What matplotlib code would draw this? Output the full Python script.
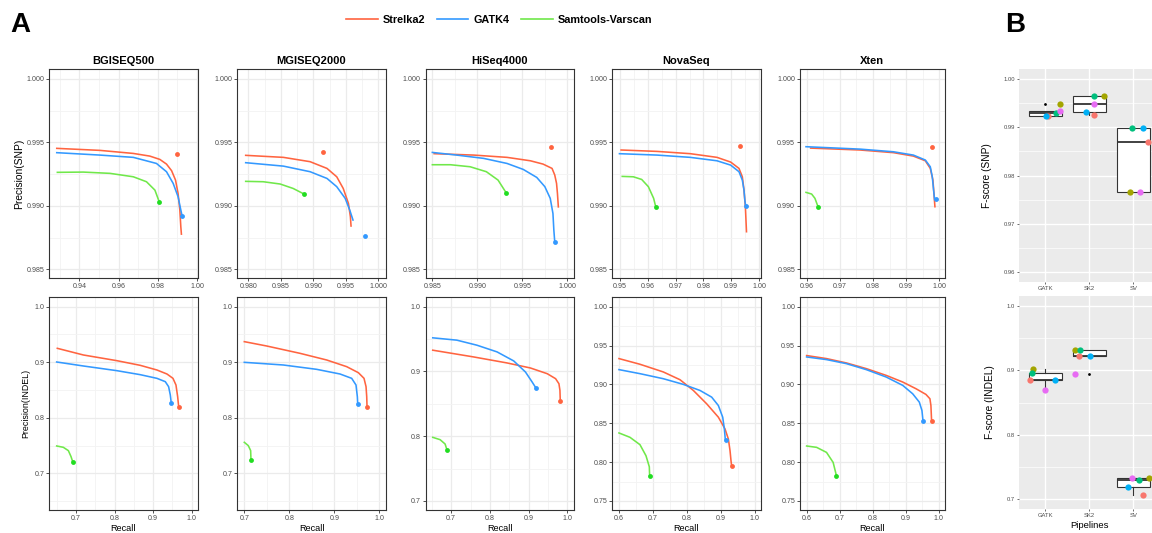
import matplotlib
matplotlib.use("Agg")
import matplotlib.pyplot as plt
from matplotlib.lines import Line2D
from matplotlib.ticker import FormatStrFormatter

plt.rcParams['font.family'] = ['Liberation Sans', 'DejaVu Sans']

# ------------------------------------------------------------------ data
platforms = ['BGISEQ500', 'MGISEQ2000', 'HiSeq4000', 'NovaSeq', 'Xten']
callers = ['Strelka2', 'GATK4', 'Samtools-Varscan']

# ---- SNP precision/recall curves ----
snp_bgiseq500_strelka2_recall = [0.9285, 0.9505, 0.9675, 0.9759, 0.9810, 0.9844, 0.9870, 0.9890, 0.9903, 0.9912, 0.9917, 0.9920]
snp_bgiseq500_strelka2_precision = [0.99453, 0.99437, 0.99413, 0.99392, 0.99366, 0.99329, 0.99277, 0.99203, 0.99098, 0.98967, 0.98835, 0.98777]
snp_bgiseq500_gatk4_recall = [0.9285, 0.9505, 0.9675, 0.9793, 0.9844, 0.9878, 0.9903, 0.9917, 0.9924]
snp_bgiseq500_gatk4_precision = [0.99419, 0.99400, 0.99382, 0.99334, 0.99269, 0.99177, 0.99072, 0.98967, 0.98917]
snp_bgiseq500_varscan_recall = [0.9288, 0.9420, 0.9556, 0.9675, 0.9742, 0.9785, 0.9807]
snp_bgiseq500_varscan_precision = [0.99264, 0.99266, 0.99256, 0.99229, 0.99190, 0.99124, 0.99032]
snp_bgiseq500_end_recall = [0.9897, 0.9924, 0.9807]
snp_bgiseq500_end_precision = [0.99408, 0.98917, 0.99032]

snp_mgiseq2000_strelka2_recall = [0.9796, 0.9854, 0.9895, 0.9921, 0.9936, 0.9946, 0.9954, 0.9957, 0.9958]
snp_mgiseq2000_strelka2_precision = [0.99398, 0.99382, 0.99348, 0.99295, 0.99229, 0.99137, 0.99019, 0.98914, 0.98841]
snp_mgiseq2000_gatk4_recall = [0.9796, 0.9854, 0.9895, 0.9921, 0.9936, 0.9949, 0.9956, 0.9961]
snp_mgiseq2000_gatk4_precision = [0.99340, 0.99313, 0.99269, 0.99216, 0.99151, 0.99059, 0.98967, 0.98888]
snp_mgiseq2000_varscan_recall = [0.9796, 0.9823, 0.9849, 0.9869, 0.9885]
snp_mgiseq2000_varscan_precision = [0.99193, 0.99190, 0.99172, 0.99137, 0.99095]
snp_mgiseq2000_end_recall = [0.9915, 0.9980, 0.9885]
snp_mgiseq2000_end_precision = [0.99421, 0.98759, 0.99095]

snp_hiseq4000_strelka2_recall = [0.9852, 0.9896, 0.9933, 0.9959, 0.9973, 0.9983, 0.9986, 0.9988, 0.9989, 0.9990]
snp_hiseq4000_strelka2_precision = [0.99411, 0.99400, 0.99382, 0.99355, 0.99329, 0.99295, 0.99243, 0.99177, 0.99098, 0.98992]
snp_hiseq4000_gatk4_recall = [0.9850, 0.9877, 0.9907, 0.9933, 0.9951, 0.9966, 0.9975, 0.9981, 0.9984, 0.9985, 0.9986]
snp_hiseq4000_gatk4_precision = [0.99421, 0.99400, 0.99374, 0.99334, 0.99287, 0.99224, 0.99151, 0.99059, 0.98940, 0.98809, 0.98717]
snp_hiseq4000_varscan_recall = [0.9850, 0.9870, 0.9892, 0.9910, 0.9923, 0.9932]
snp_hiseq4000_varscan_precision = [0.99324, 0.99324, 0.99308, 0.99269, 0.99203, 0.99103]
snp_hiseq4000_end_recall = [0.9982, 0.9986, 0.9932]
snp_hiseq4000_end_precision = [0.99466, 0.98717, 0.99103]

snp_novaseq_strelka2_recall = [0.9504, 0.9633, 0.9753, 0.9849, 0.9898, 0.9928, 0.9940, 0.9946, 0.9951, 0.9955]
snp_novaseq_strelka2_precision = [0.99440, 0.99429, 0.99411, 0.99382, 0.99345, 0.99295, 0.99229, 0.99124, 0.98992, 0.98796]
snp_novaseq_gatk4_recall = [0.9498, 0.9633, 0.9753, 0.9849, 0.9898, 0.9928, 0.9940, 0.9946, 0.9949, 0.9952]
snp_novaseq_gatk4_precision = [0.99411, 0.99400, 0.99382, 0.99355, 0.99321, 0.99269, 0.99203, 0.99124, 0.99045, 0.99001]
snp_novaseq_varscan_recall = [0.9508, 0.9548, 0.9578, 0.9602, 0.9621, 0.9629]
snp_novaseq_varscan_precision = [0.99232, 0.99229, 0.99208, 0.99151, 0.99059, 0.98988]
snp_novaseq_end_recall = [0.9931, 0.9952, 0.9629]
snp_novaseq_end_precision = [0.99474, 0.99001, 0.98988]

snp_xten_strelka2_recall = [0.9612, 0.9761, 0.9862, 0.9922, 0.9958, 0.9973, 0.9981, 0.9984, 0.9987]
snp_xten_strelka2_precision = [0.99455, 0.99440, 0.99419, 0.99392, 0.99355, 0.99295, 0.99203, 0.99098, 0.98993]
snp_xten_gatk4_recall = [0.9598, 0.9761, 0.9862, 0.9922, 0.9958, 0.9973, 0.9979, 0.9983, 0.9986]
snp_xten_gatk4_precision = [0.99466, 0.99447, 0.99426, 0.99400, 0.99361, 0.99308, 0.99229, 0.99124, 0.99051]
snp_xten_varscan_recall = [0.9598, 0.9615, 0.9625, 0.9635]
snp_xten_varscan_precision = [0.99106, 0.99093, 0.99059, 0.98988]
snp_xten_end_recall = [0.9979, 0.9989, 0.9635]
snp_xten_end_precision = [0.99466, 0.99051, 0.98988]

# ---- INDEL precision/recall curves ----
indel_bgiseq500_strelka2_recall = [0.6514, 0.7191, 0.8058, 0.8665, 0.9099, 0.9359, 0.9515, 0.9593, 0.9637, 0.9663]
indel_bgiseq500_strelka2_precision = [0.9250, 0.9130, 0.9028, 0.8944, 0.8860, 0.8788, 0.8710, 0.8590, 0.8380, 0.8200]
indel_bgiseq500_gatk4_recall = [0.6497, 0.7191, 0.8058, 0.8665, 0.9099, 0.9316, 0.9402, 0.9446, 0.9472]
indel_bgiseq500_gatk4_precision = [0.9004, 0.8932, 0.8848, 0.8776, 0.8710, 0.8650, 0.8560, 0.8410, 0.8260]
indel_bgiseq500_varscan_recall = [0.6497, 0.6670, 0.6801, 0.6870, 0.6913]
indel_bgiseq500_varscan_precision = [0.7493, 0.7469, 0.7409, 0.7301, 0.7211]
indel_bgiseq500_end_recall = [0.9680, 0.9472, 0.6913]
indel_bgiseq500_end_precision = [0.8194, 0.8260, 0.7211]

indel_mgiseq2000_strelka2_recall = [0.7000, 0.7496, 0.8237, 0.8830, 0.9274, 0.9533, 0.9659, 0.9704, 0.9719, 0.9726]
indel_mgiseq2000_strelka2_precision = [0.9370, 0.9292, 0.9160, 0.9040, 0.8920, 0.8812, 0.8710, 0.8560, 0.8380, 0.8200]
indel_mgiseq2000_gatk4_recall = [0.7000, 0.7867, 0.8607, 0.9126, 0.9385, 0.9481, 0.9511, 0.9519]
indel_mgiseq2000_gatk4_precision = [0.8998, 0.8950, 0.8872, 0.8788, 0.8710, 0.8590, 0.8380, 0.8248]
indel_mgiseq2000_varscan_recall = [0.7000, 0.7089, 0.7141, 0.7148]
indel_mgiseq2000_varscan_precision = [0.7559, 0.7499, 0.7409, 0.7247]
indel_mgiseq2000_end_recall = [0.9726, 0.9526, 0.7148]
indel_mgiseq2000_end_precision = [0.8188, 0.8248, 0.7247]

indel_hiseq4000_strelka2_recall = [0.6525, 0.7579, 0.8443, 0.9048, 0.9481, 0.9697, 0.9783, 0.9809, 0.9818]
indel_hiseq4000_strelka2_precision = [0.9328, 0.9224, 0.9131, 0.9053, 0.8965, 0.8888, 0.8810, 0.8707, 0.8541]
indel_hiseq4000_gatk4_recall = [0.6525, 0.7147, 0.7666, 0.8184, 0.8616, 0.8919, 0.9092, 0.9195]
indel_hiseq4000_gatk4_precision = [0.9519, 0.9483, 0.9405, 0.9302, 0.9162, 0.8991, 0.8836, 0.8738]
indel_hiseq4000_varscan_recall = [0.6525, 0.6715, 0.6844, 0.6896]
indel_hiseq4000_varscan_precision = [0.7982, 0.7946, 0.7879, 0.7781]
indel_hiseq4000_end_recall = [0.9818, 0.9195, 0.6896]
indel_hiseq4000_end_precision = [0.8536, 0.8738, 0.7781]

indel_novaseq_strelka2_recall = [0.6000, 0.6619, 0.7307, 0.7799, 0.8192, 0.8585, 0.8929, 0.9125, 0.9224, 0.9273, 0.9302, 0.9322]
indel_novaseq_strelka2_precision = [0.9332, 0.9259, 0.9160, 0.9060, 0.8922, 0.8750, 0.8578, 0.8427, 0.8297, 0.8147, 0.8017, 0.7944]
indel_novaseq_gatk4_recall = [0.6000, 0.6619, 0.7307, 0.7897, 0.8388, 0.8732, 0.8929, 0.9057, 0.9106, 0.9135]
indel_novaseq_gatk4_precision = [0.9190, 0.9138, 0.9073, 0.9000, 0.8922, 0.8836, 0.8728, 0.8578, 0.8427, 0.8285]
indel_novaseq_varscan_recall = [0.6000, 0.6324, 0.6619, 0.6796, 0.6894, 0.6904]
indel_novaseq_varscan_precision = [0.8375, 0.8319, 0.8224, 0.8082, 0.7940, 0.7823]
indel_novaseq_end_recall = [0.9322, 0.9145, 0.6904]
indel_novaseq_end_precision = [0.7944, 0.8285, 0.7823]

indel_xten_strelka2_recall = [0.6000, 0.6603, 0.7206, 0.7809, 0.8412, 0.8915, 0.9317, 0.9618, 0.9739, 0.9769, 0.9789]
indel_xten_strelka2_precision = [0.9371, 0.9332, 0.9276, 0.9203, 0.9116, 0.9030, 0.8944, 0.8871, 0.8815, 0.8728, 0.8534]
indel_xten_gatk4_recall = [0.6000, 0.6603, 0.7206, 0.7809, 0.8412, 0.8915, 0.9216, 0.9417, 0.9497, 0.9528]
indel_xten_gatk4_precision = [0.9353, 0.9319, 0.9267, 0.9190, 0.9095, 0.8987, 0.8879, 0.8772, 0.8664, 0.8534]
indel_xten_varscan_recall = [0.6000, 0.6302, 0.6603, 0.6804, 0.6905]
indel_xten_varscan_precision = [0.8207, 0.8190, 0.8125, 0.7996, 0.7823]
indel_xten_end_recall = [0.9799, 0.9538, 0.6905]
indel_xten_end_precision = [0.8534, 0.8534, 0.7823]

# ---- Panel B: F-scores per pipeline (one value per sequencing platform, colour order) ----
pipelines = ['GATK', 'SK2', 'SV']
fscore_snp_gatk = [0.99233, 0.99489, 0.99288, 0.99226, 0.99330]
fscore_snp_sk2 = [0.99254, 0.99648, 0.99648, 0.99309, 0.99475]
fscore_snp_sv = [0.98701, 0.97651, 0.98984, 0.98984, 0.97651]
fscore_indel_gatk = [0.88436, 0.90139, 0.89520, 0.88487, 0.86939]
fscore_indel_sk2 = [0.92153, 0.93185, 0.93134, 0.92256, 0.89468]
fscore_indel_sv = [0.70676, 0.73361, 0.73051, 0.71967, 0.73361]

# horizontal jitter of the points (style)
jitter_snp = [[0.06, 0.33, 0.24, 0.02, 0.33], [0.11, 0.34, 0.11, -0.08, 0.11], [0.34, -0.07, -0.02, 0.23, 0.15]]
jitter_indel = [[-0.36, -0.29, -0.30, 0.21, 0.0], [-0.24, -0.33, -0.21, 0.02, -0.33], [0.22, 0.37, 0.14, -0.13, -0.02]]

# ------------------------------------------------------------------ styles
W, H = 1152, 533
caller_line_colors = ['#FF6440', '#3399FF', '#70E84A']
caller_point_colors = ['#FF6440', '#3399FF', '#22DD22']
platform_colors = ['#F8766D', '#A3A500', '#00BF7D', '#00B0F6', '#E76BF3']

fig = plt.figure(figsize=(W / 100, H / 100), dpi=100)


def rect(l, t, r, b):
    return [l / W, 1 - b / H, (r - l) / W, (b - t) / H]


g = globals()
keys = ['bgiseq500', 'mgiseq2000', 'hiseq4000', 'novaseq', 'xten']
ckeys = ['strelka2', 'gatk4', 'varscan']

cols = [(49.3, 197.7), (237.3, 385.7), (425.7, 574.0), (612.3, 760.7), (800.0, 944.5)]
rows = {'snp': (69.3, 278.3), 'indel': (297.3, 510.0)}


def mids(t):
    return [(a + b) / 2 for a, b in zip(t[:-1], t[1:])]


cfg = {
    'snp': [
        ((0.9247, 1.0003), [0.94, 0.96, 0.98, 1.00], [0.93, 0.95, 0.97, 0.99], 2),
        ((0.97831, 1.00113), [0.980, 0.985, 0.990, 0.995, 1.000], None, 3),
        ((0.98426, 1.00074), [0.985, 0.990, 0.995, 1.000], None, 3),
        ((0.94723, 1.00061), [0.95, 0.96, 0.97, 0.98, 0.99, 1.00], None, 2),
        ((0.95799, 1.00159), [0.96, 0.97, 0.98, 0.99, 1.00], None, 2),
    ],
    'indel': [
        ((0.6306, 1.0157), [0.7, 0.8, 0.9, 1.0], [0.65, 0.75, 0.85, 0.95], 1),
        ((0.68444, 1.01407), [0.7, 0.8, 0.9, 1.0], None, 1),
        ((0.63431, 1.01720), [0.7, 0.8, 0.9, 1.0], [0.65, 0.75, 0.85, 0.95], 1),
        ((0.58034, 1.01769), [0.6, 0.7, 0.8, 0.9, 1.0], [0.65, 0.75, 0.85, 0.95], 1),
        ((0.57990, 1.01809), [0.6, 0.7, 0.8, 0.9, 1.0], [0.65, 0.75, 0.85, 0.95], 1),
    ],
}
ycfg = {
    'snp': [((0.98429, 1.00076), [0.985, 0.990, 0.995, 1.000], 3)] * 5,
    'indel': [
        ((0.6341, 1.0168), [0.7, 0.8, 0.9, 1.0], 1),
        ((0.6341, 1.0168), [0.7, 0.8, 0.9, 1.0], 1),
        ((0.68598, 1.01449), [0.7, 0.8, 0.9, 1.0], 1),
        ((0.73836, 1.01207), [0.75, 0.80, 0.85, 0.90, 0.95, 1.00], 2),
        ((0.73836, 1.01207), [0.75, 0.80, 0.85, 0.90, 0.95, 1.00], 2),
    ],
}
yminor_extra = {('indel', 0): [0.65], ('indel', 1): [0.65]}

for vt in ['snp', 'indel']:
    top, bot = rows[vt]
    for i, pk in enumerate(keys):
        l, r = cols[i]
        ax = fig.add_axes(rect(l, top, r, bot))
        xlim, xt, xmn, xdec = cfg[vt][i]
        ylim, yt, ydec = ycfg[vt][i]
        for j, ck in enumerate(ckeys):
            rec = g[f'{vt}_{pk}_{ck}_recall']
            pre = g[f'{vt}_{pk}_{ck}_precision']
            ax.plot(rec, pre, color=caller_line_colors[j], lw=1.15, zorder=3,
                    solid_joinstyle='round')
        er = g[f'{vt}_{pk}_end_recall']
        ep = g[f'{vt}_{pk}_end_precision']
        for j in range(3):
            ax.plot([er[j]], [ep[j]], 'o', ms=3.5, color=caller_point_colors[j],
                    mec='none', zorder=4)
        ax.set_xlim(xlim)
        ax.set_ylim(ylim)
        ax.set_xticks(xt)
        ax.set_xticks(xmn if xmn is not None else mids(xt), minor=True)
        ax.set_yticks(yt)
        ax.set_yticks(mids(yt) + yminor_extra.get((vt, i), []), minor=True)
        ax.xaxis.set_major_formatter(FormatStrFormatter(f'%.{xdec}f'))
        ax.yaxis.set_major_formatter(FormatStrFormatter(f'%.{ydec}f'))
        ax.grid(which='major', color='#EBEBEB', lw=0.9)
        ax.grid(which='minor', color='#F3F3F3', lw=0.6)
        ax.set_axisbelow(True)
        for s in ax.spines.values():
            s.set_color('#333333')
            s.set_linewidth(0.8)
        ax.tick_params(which='major', length=2, width=0.6, color='#333333',
                       labelsize=5.1, labelcolor='#4D4D4D', pad=1.5)
        ax.tick_params(which='minor', length=0)
        if vt == 'snp':
            ax.set_title(platforms[i], fontsize=8, fontweight='bold', pad=4)
        else:
            ax.set_xlabel('Recall', fontsize=6.6, labelpad=1.5)
        if i == 0:
            if vt == 'snp':
                ax.set_ylabel('Precision(SNP)', fontsize=7.4, labelpad=2)
            else:
                ax.set_ylabel('Precision(INDEL)', fontsize=6.4, labelpad=3)

# ------------------------------------------------------------------ panel B
b_rows = {'snp': (69.3, 281.7), 'indel': (296.0, 509.0)}
b_data = {'snp': [fscore_snp_gatk, fscore_snp_sk2, fscore_snp_sv],
          'indel': [fscore_indel_gatk, fscore_indel_sk2, fscore_indel_sv]}
b_jit = {'snp': jitter_snp, 'indel': jitter_indel}
b_ylim = {'snp': (0.9580, 1.0020), 'indel': (0.68508, 1.01497)}
b_yt = {'snp': [0.96, 0.97, 0.98, 0.99, 1.00], 'indel': [0.7, 0.8, 0.9, 1.0]}
b_ydec = {'snp': 2, 'indel': 1}
b_ylab = {'snp': 'F-score (SNP)', 'indel': 'F-score (INDEL)'}

for vt in ['snp', 'indel']:
    top, bot = b_rows[vt]
    ax = fig.add_axes(rect(1019.0, top, 1159.6, bot))
    ax.set_facecolor('#EBEBEB')
    data = b_data[vt]
    ax.boxplot(data, positions=[1, 2, 3], widths=0.75, patch_artist=True,
               showcaps=False, whis=1.5,
               boxprops=dict(facecolor='white', edgecolor='#333333', lw=0.8),
               medianprops=dict(color='#333333', lw=1.3),
               whiskerprops=dict(color='#333333', lw=0.8),
               flierprops=dict(marker='o', ms=2.0, mfc='black', mec='none'),
               zorder=2)
    for k, vals in enumerate(data):
        for c, v in enumerate(vals):
            ax.plot([k + 1 + b_jit[vt][k][c]], [v], 'o', ms=4.5,
                    color=platform_colors[c], mec='none', zorder=3)
    ax.set_xlim(0.4, 3.6)
    ax.set_ylim(b_ylim[vt])
    ax.set_xticks([1, 2, 3])
    ax.set_xticklabels(pipelines)
    ax.set_yticks(b_yt[vt])
    ax.set_yticks(mids(b_yt[vt]), minor=True)
    ax.yaxis.set_major_formatter(FormatStrFormatter(f'%.{b_ydec[vt]}f'))
    ax.grid(which='major', color='white', lw=1.0)
    ax.grid(which='minor', axis='y', color='white', lw=0.5)
    ax.set_axisbelow(True)
    for s in ax.spines.values():
        s.set_visible(False)
    ax.tick_params(which='major', length=1.5, width=0.5, color='#333333',
                   labelsize=4.2, labelcolor='#4D4D4D', pad=1.5)
    ax.tick_params(which='minor', length=0)
    ax.set_ylabel(b_ylab[vt], fontsize=7.3, labelpad=8)
    if vt == 'indel':
        ax.set_xlabel('Pipelines', fontsize=6.8, labelpad=2)

# ------------------------------------------------------------------ legend & letters
handles = [Line2D([0], [0], color=caller_line_colors[j], lw=1.2) for j in range(3)]
fig.legend(handles, callers, loc='center', bbox_to_anchor=(499 / W, 1 - 20 / H),
           ncol=3, frameon=False, prop={'weight': 'bold', 'size': 7.8},
           handlelength=2.9, handletextpad=0.45, columnspacing=1.1)
fig.text(10 / W, 1 - 32 / H, 'A', fontsize=20, fontweight='bold', va='baseline')
fig.text(1005 / W, 1 - 32 / H, 'B', fontsize=20, fontweight='bold', va='baseline')

fig.savefig('out.png', dpi=100)
